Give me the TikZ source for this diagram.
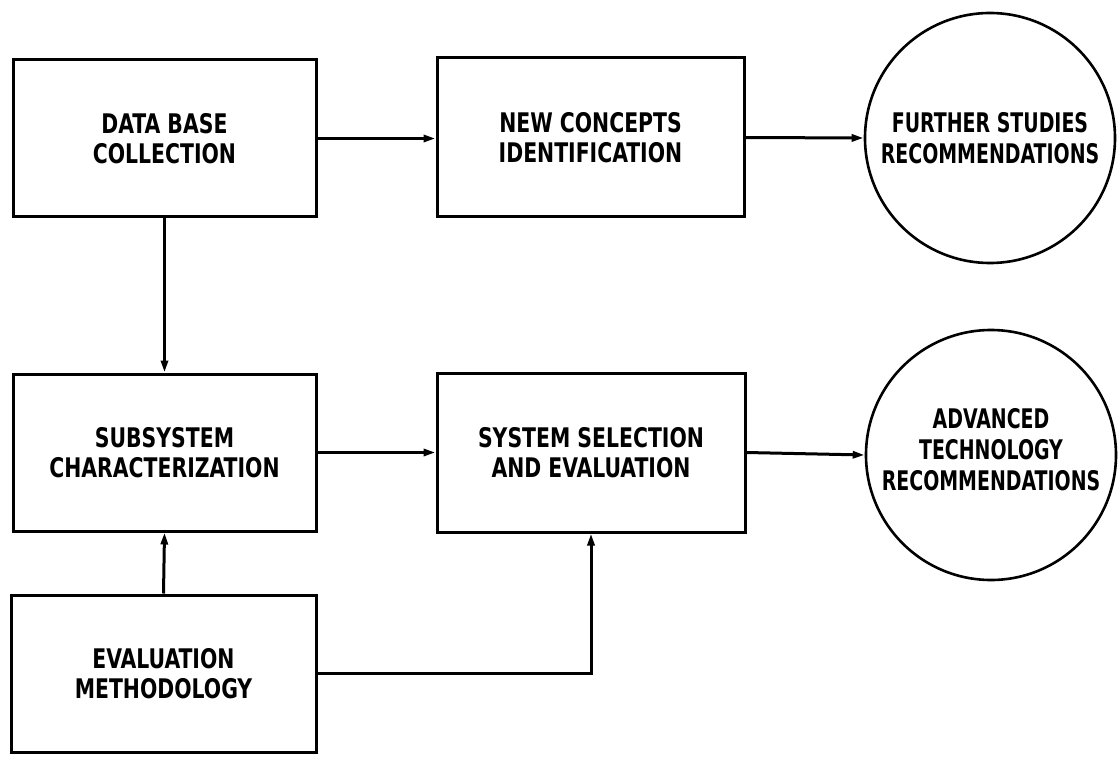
\documentclass[tikz,border=0pt]{standalone}
\usepackage{fontspec}
\newfontfamily\lbl[FakeStretch=0.84]{DejaVu Sans Condensed Bold}
\newfontfamily\clbl[FakeStretch=0.78]{DejaVu Sans Condensed Bold}
\usetikzlibrary{arrows.meta,calc}
\begin{document}
\begin{tikzpicture}[x=1pt,y=-1pt,
  box/.style={draw,line width=3pt,inner sep=0pt,align=center,font=\lbl\fontsize{27}{30}\selectfont},
  circ/.style={draw,circle,line width=2.6pt,inner sep=0pt,minimum size=250pt,align=center,font=\clbl\fontsize{27}{31}\selectfont},
  conn/.style={line width=3pt,-{Triangle[length=12pt,width=7pt]}}]
\useasboundingbox (0,0) rectangle (1120,757);
\node[box,minimum width=303pt,minimum height=157pt] (db) at (164.5,138.5) {DATA BASE\\COLLECTION};
\node[box,minimum width=307pt,minimum height=159pt] (nc) at (590.5,137.5) {NEW CONCEPTS\\IDENTIFICATION};
\node[circ] (c1) at (990,138) {FURTHER STUDIES\\RECOMMENDATIONS};
\node[box,minimum width=303pt,minimum height=157pt] (ss) at (164.5,452.5) {SUBSYSTEM\\CHARACTERIZATION};
\node[box,minimum width=308pt,minimum height=159pt] (sys) at (591,452.5) {SYSTEM SELECTION\\AND EVALUATION};
\node[circ] (c2) at (991,455) {ADVANCED\\TECHNOLOGY\\RECOMMENDATIONS\\[-19pt]\mbox{}};
\node[box,minimum width=305pt,minimum height=157pt] (ev) at (163.5,673.5) {EVALUATION\\METHODOLOGY};
\draw[conn] (db.east) -- (db.east -| nc.west);
\draw[conn] (nc.east) -- (c1.west);
\draw[conn] (db.south) -- (ss.north);
\draw[conn] (ev.north) -- (ss.south);
\draw[conn] (ss.east) -- (sys.west);
\draw[conn] (sys.east) -- (c2.west);
\draw[conn] (ev.east) -| (sys.south);
\end{tikzpicture}
\end{document}
